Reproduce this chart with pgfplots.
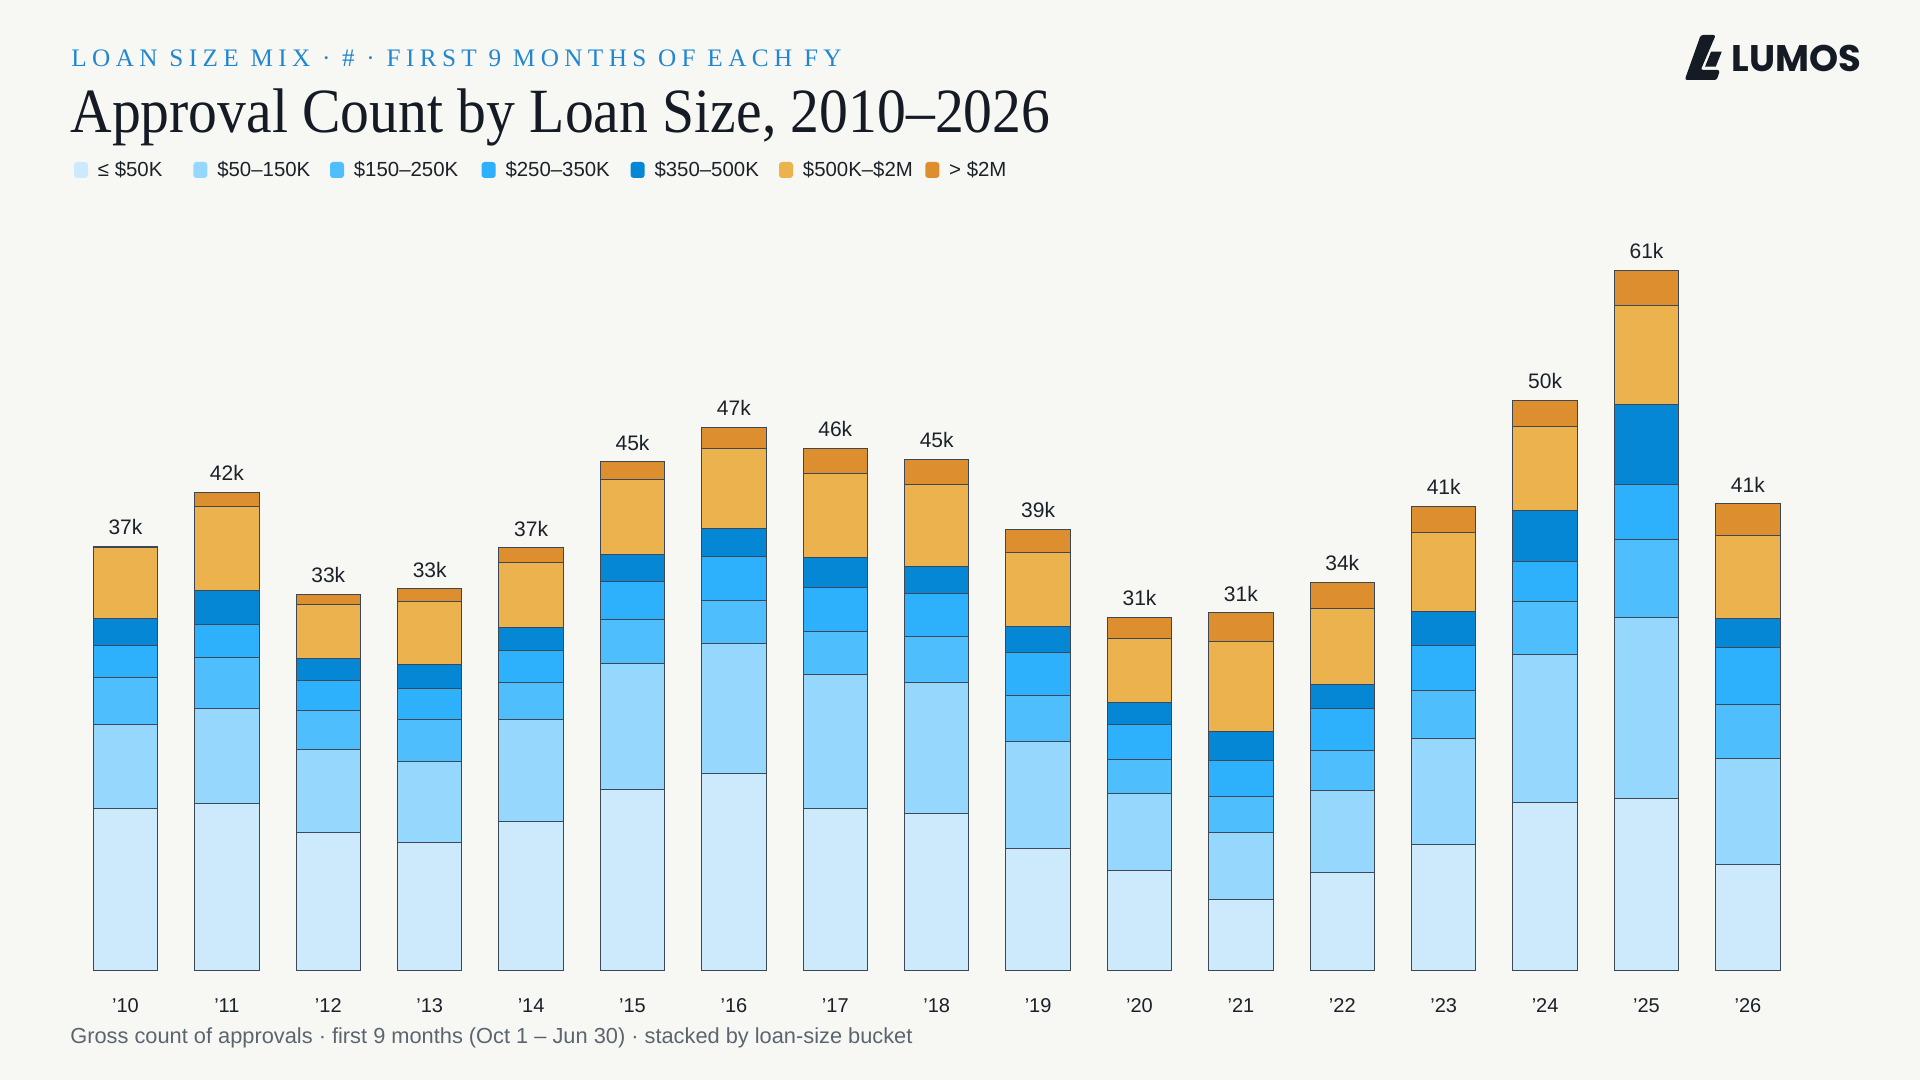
\documentclass[border=0pt]{standalone}
\usepackage{fontspec}
\usepackage{pgfplots}
\usepackage{pgfplotstable}
\pgfplotsset{compat=1.18}
\setmainfont{Liberation Sans}
\newfontfamily\serifT{Liberation Serif}[FakeStretch=0.915]
\newfontfamily\serifS{Liberation Serif}[LetterSpace=21.5]
\newfontfamily\logofont{Poppins}

\definecolor{bg}{HTML}{F7F8F3}
\definecolor{c1}{HTML}{CDEAFD}
\definecolor{c2}{HTML}{96D8FD}
\definecolor{c3}{HTML}{4FBEFD}
\definecolor{c4}{HTML}{2DB1FD}
\definecolor{c5}{HTML}{0587D5}
\definecolor{c6}{HTML}{ECB24D}
\definecolor{c7}{HTML}{DD8F30}
\definecolor{edge}{HTML}{3C4855}
\definecolor{subblue}{HTML}{2187D0}
\definecolor{titlec}{HTML}{141B24}
\definecolor{txt}{HTML}{1B2129}
\definecolor{foot}{HTML}{5B6570}

\pgfplotstableread{
x a b c d e f g tot lab
0 14.09 7.33 4.17 2.81 2.36 6.17 0.10 37.03 37k
1 14.54 8.30 4.46 2.88 3.00 7.37 1.19 41.74 42k
2 12.02 7.24 3.42 2.62 1.91 4.78 0.87 32.86 33k
3 11.15 7.07 3.72 2.68 2.07 5.52 1.10 33.31 33k
4 13.02 8.85 3.24 2.84 2.03 5.63 1.29 36.90 37k
5 15.77 10.98 3.85 3.33 2.42 6.53 1.55 44.43 45k
6 17.14 11.39 3.81 3.82 2.46 6.98 1.81 47.41 47k
7 14.10 11.71 3.81 3.85 2.59 7.37 2.17 45.60 46k
8 13.71 11.42 4.01 3.78 2.33 7.18 2.20 44.63 45k
9 10.61 9.38 4.02 3.76 2.27 6.47 1.99 38.50 39k
10 8.71 6.73 2.98 3.05 1.87 5.65 1.81 30.80 31k
11 6.12 5.91 3.18 3.09 2.53 7.90 2.48 31.21 31k
12 8.56 7.13 3.48 3.65 2.10 6.66 2.28 33.86 34k
13 10.94 9.33 4.15 3.98 2.91 6.96 2.28 40.55 41k
14 14.65 12.95 4.65 3.48 4.42 7.32 2.31 49.78 50k
15 15.02 15.83 6.80 4.76 7.04 8.63 3.09 61.17 61k
16 9.20 9.32 4.68 5.01 2.52 7.24 2.77 40.74 41k
}\data

\begin{document}
\begin{tikzpicture}[x=0.5pt,y=-0.5pt]
\fill[bg] (0,0) rectangle (1920,1080);
\useasboundingbox (0,0) rectangle (1920,1080);

% header
\node[anchor=base west, inner sep=0pt, text=subblue, font=\serifS\fontsize{12.6pt}{15pt}\selectfont] at (71,66.7) {LOAN SIZE MIX · \# · FIRST 9 MONTHS OF EACH FY};
\node[anchor=base west, inner sep=0pt, text=titlec, font=\serifT\fontsize{31.5pt}{36pt}\selectfont] at (70,133) {Approval Count by Loan Size, 2010–2026};

% legend
\foreach \sx/\col/\lab in {74/c1/{≤ \$50K}, 193.4/c2/{\$50–150K}, 330/c3/{\$150–250K}, 481.6/c4/{\$250–350K}, 630.6/c5/{\$350–500K}, 779/c6/{\$500K–\$2M}, 925.3/c7/{> \$2M}}{
  \fill[\col, rounded corners=1.5pt] (\sx,162) rectangle ++(14,16);
  \node[anchor=base west, inner sep=0pt, text=txt, font=\fontsize{10.2pt}{12pt}\selectfont] at (\sx+23.5,177) {\lab};
}

% logo
\fill[titlec, rounded corners=1.2pt] (1684.7,80) -- (1700.7,35) -- (1715.7,35) -- (1700.7,70) -- (1720,70) -- (1716.7,80) -- cycle;
\fill[titlec] (1705,66.7) -- (1711,51.7) -- (1721.7,51.7) -- (1715.7,66.7) -- cycle;
\node[anchor=base west, inner sep=0pt, text=titlec, font=\logofont\bfseries\fontsize{18.5pt}{22pt}\selectfont] at (1731,72) {LUMOS};

% footer
\node[anchor=base west, inner sep=0pt, text=foot, font=\fontsize{10.9pt}{13pt}\selectfont] at (70,1043) {Gross count of approvals · first 9 months (Oct 1 – Jun 30) · stacked by loan-size bucket};

\begin{axis}[
  at={(37.4pt,-485pt)}, anchor=south west,
  scale only axis, width=861.9pt, height=400.4pt,
  xmin=-0.5, xmax=16.5, ymin=0, ymax=70,
  ybar stacked, bar width=32.25pt,
  axis line style={draw=none},
  ytick=\empty,
  xtick={0,...,16},
  xticklabels={'10,'11,'12,'13,'14,'15,'16,'17,'18,'19,'20,'21,'22,'23,'24,'25,'26},
  major tick length=0pt,
  xticklabel style={font=\fontsize{10pt}{12pt}\selectfont, text=txt, anchor=base, yshift=-21pt, inner sep=0pt},
  clip=false,
]
\addplot[fill=c1, draw=edge, line width=0.5pt] table[x=x,y=a]{\data};
\addplot[fill=c2, draw=edge, line width=0.5pt] table[x=x,y=b]{\data};
\addplot[fill=c3, draw=edge, line width=0.5pt] table[x=x,y=c]{\data};
\addplot[fill=c4, draw=edge, line width=0.5pt] table[x=x,y=d]{\data};
\addplot[fill=c5, draw=edge, line width=0.5pt] table[x=x,y=e]{\data};
\addplot[fill=c6, draw=edge, line width=0.5pt] table[x=x,y=f]{\data};
\addplot[fill=c7, draw=edge, line width=0.5pt] table[x=x,y=g]{\data};
\end{axis}

\begin{axis}[
  at={(37.4pt,-485pt)}, anchor=south west,
  scale only axis, width=861.9pt, height=400.4pt,
  xmin=-0.5, xmax=16.5, ymin=0, ymax=70,
  hide axis, clip=false,
]
\addplot[draw=none, mark=none, nodes near coords, point meta=explicit symbolic,
  every node near coord/.append style={font=\fontsize{10.5pt}{12pt}\selectfont, text=txt, inner sep=0pt, anchor=base, yshift=5.85pt}]
  table[x=x,y=tot,meta=lab]{\data};
\end{axis}
\end{tikzpicture}
\end{document}
